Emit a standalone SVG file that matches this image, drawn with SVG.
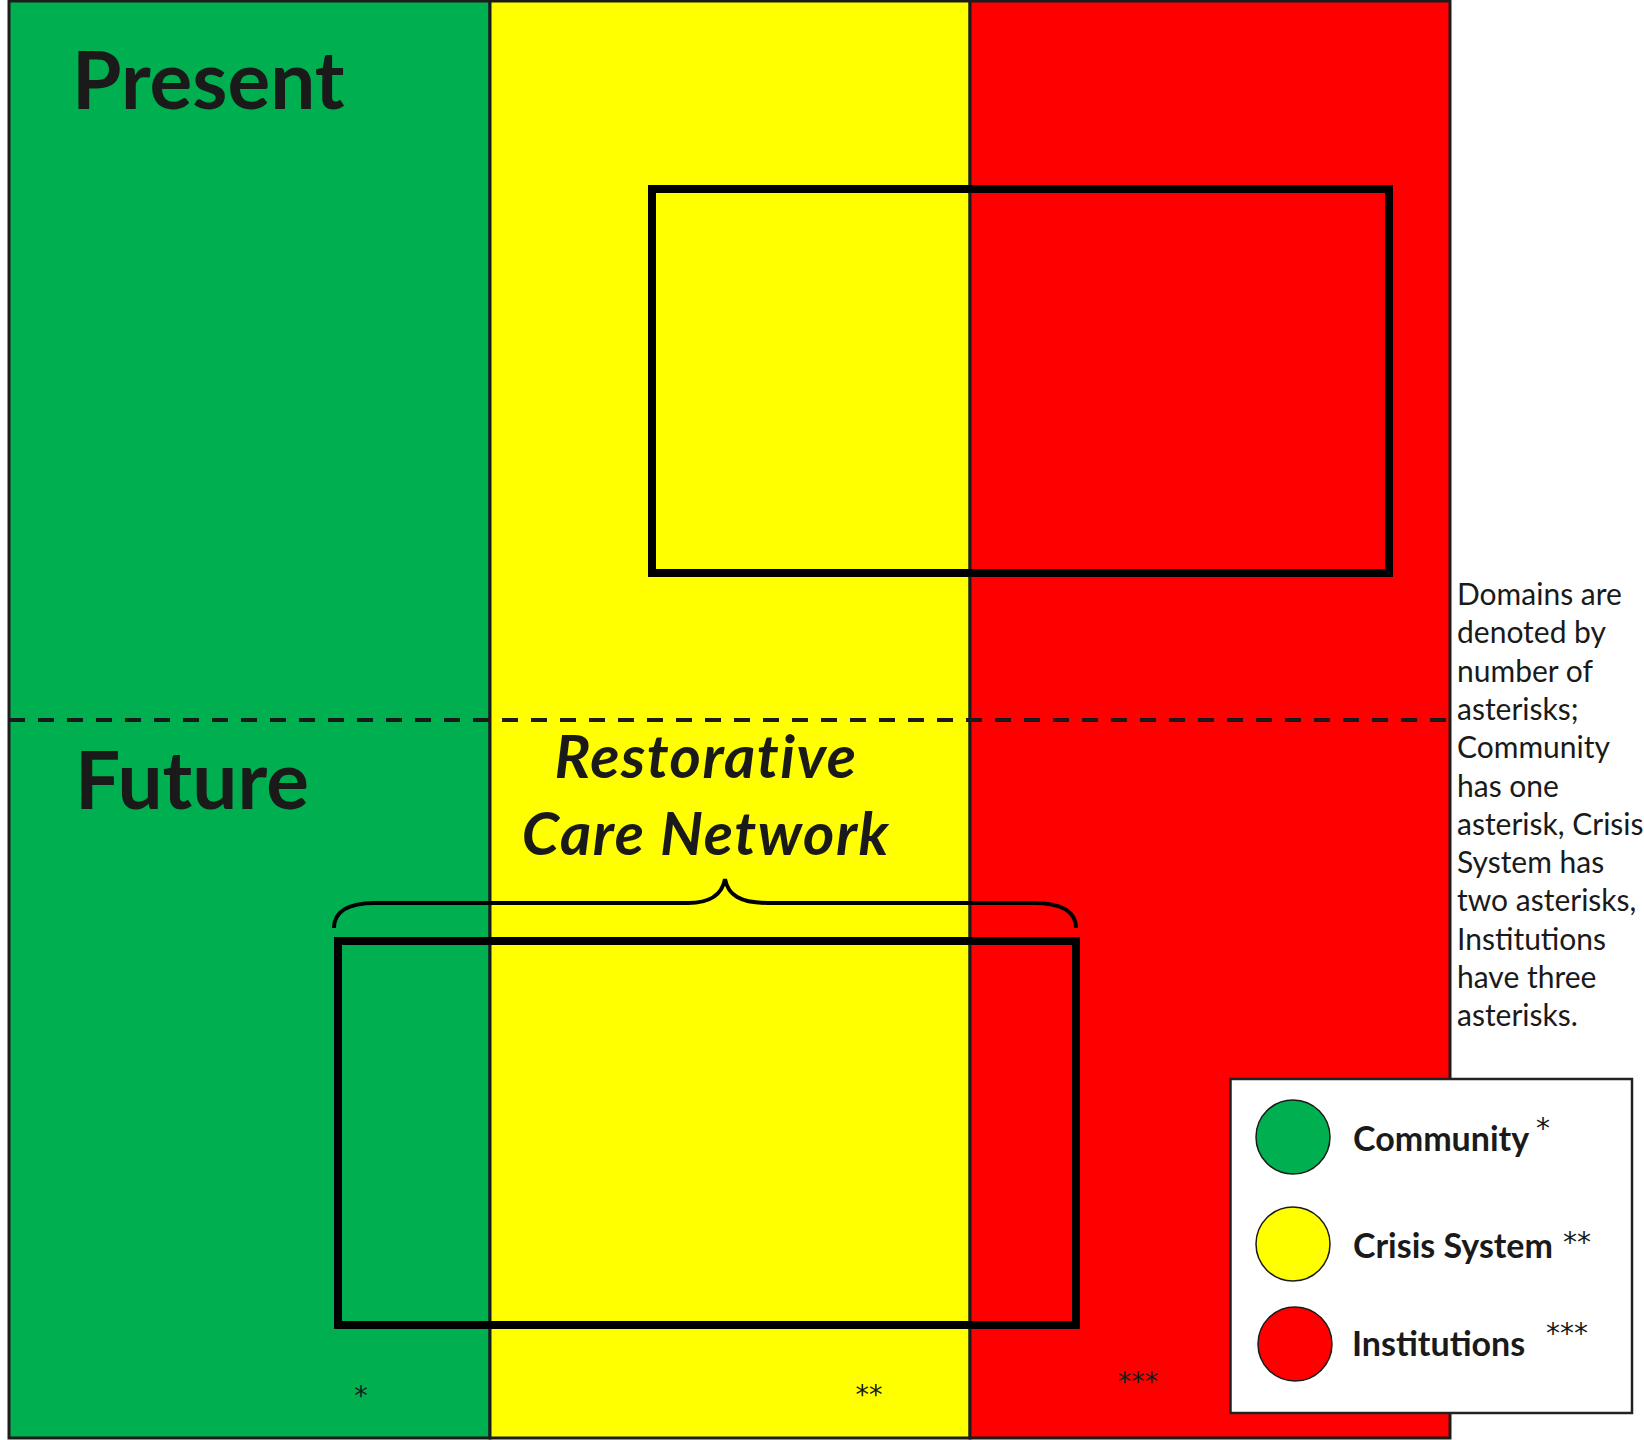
<svg xmlns="http://www.w3.org/2000/svg" width="1644" height="1440" viewBox="0 0 1644 1440">
<style>
.col{stroke:#1c1c1c;stroke-width:3}
.frame{fill:none;stroke:#000;stroke-width:8}
.title{font-family:Lato,"Open Sans",sans-serif;font-weight:bold;font-size:80px;fill:#1a1a1a}
.rcn{font-family:Lato,"Open Sans",sans-serif;font-weight:bold;font-style:italic;font-size:60px;letter-spacing:1.5px;fill:#1a1a1a}
.note{font-family:Lato,"Open Sans",sans-serif;font-size:30px;fill:#1a1a1a}
.leg{font-family:Lato,"Open Sans",sans-serif;font-weight:bold;font-size:34px;fill:#1a1a1a}
.ast{font-family:"DejaVu Sans",sans-serif;font-size:27px;fill:#1a1a1a;text-anchor:middle}
.dot{stroke:#1a1a1a;stroke-width:1.5}
</style>
<rect width="1644" height="1440" fill="#fff"/>
<g id="columns">
<rect id="community-col" class="col" x="9" y="1" width="481" height="1437" fill="#00B050"/>
<rect id="crisis-col" class="col" x="490" y="1" width="480" height="1437" fill="#FFFF00"/>
<rect id="institutions-col" class="col" x="970" y="1" width="480" height="1437" fill="#FF0000"/>
</g>
<line id="divider" x1="9" y1="720" x2="1450" y2="720" stroke="#1a1a1a" stroke-width="4" stroke-dasharray="16 13"/>
<g id="present">
<text class="title" x="72" y="109">Present</text>
<rect class="frame" x="652" y="189" width="737" height="384"/>
</g>
<g id="future">
<text class="title" x="75" y="809">Future</text>
<rect class="frame" x="338" y="941" width="738" height="384"/>
</g>
<g id="restorative-care-network">
<text class="rcn" x="706" y="778" text-anchor="middle">Restorative</text>
<text class="rcn" x="706" y="855" text-anchor="middle">Care Network</text>
</g>
<g id="connectors">
<path d="M334,928 C334,912 348,903 375,903 L688,903 C710,903 722,895 725,879 C728,895 740,903 768,903 L1034,903 C1062,903 1076,912 1076,928" fill="none" stroke="#000" stroke-width="4"/>
</g>
<g id="domain-asterisks">
<text class="ast" x="361" y="1405">*</text>
<text class="ast" x="869" y="1404">**</text>
<text class="ast" x="1138" y="1391">***</text>
</g>
<g id="note">
<text class="note" x="1457">
<tspan x="1457" y="605">Domains are</tspan>
<tspan x="1457" y="643.3">denoted by</tspan>
<tspan x="1457" y="681.6">number of</tspan>
<tspan x="1457" y="719.9">asterisks;</tspan>
<tspan x="1457" y="758.2">Community</tspan>
<tspan x="1457" y="796.5">has one</tspan>
<tspan x="1457" y="834.8">asterisk, Crisis</tspan>
<tspan x="1457" y="873.1">System has</tspan>
<tspan x="1457" y="911.4">two asterisks,</tspan>
<tspan x="1457" y="949.7">Institutions</tspan>
<tspan x="1457" y="988">have three</tspan>
<tspan x="1457" y="1026.3">asterisks.</tspan>
</text>
</g>
<g id="legend">
<rect x="1230.5" y="1079" width="401.5" height="334" fill="#fff" stroke="#222" stroke-width="2.5"/>
<g id="legend-community">
<circle class="dot" cx="1293" cy="1137" r="37" fill="#00B050"/>
<text class="leg" x="1353" y="1151">Community</text>
<text class="ast" x="1543" y="1138" style="font-size:28px">*</text>
</g>
<g id="legend-crisis">
<circle class="dot" cx="1293" cy="1244" r="37" fill="#FFFF00"/>
<text class="leg" x="1353" y="1258">Crisis System</text>
<text class="ast" x="1577" y="1252" style="font-size:28px">**</text>
</g>
<g id="legend-institutions">
<circle class="dot" cx="1295" cy="1344" r="37" fill="#FF0000"/>
<text class="leg" x="1352" y="1356">Institutions</text>
<text class="ast" x="1567" y="1343" style="font-size:28px">***</text>
</g>
</g>
</svg>
